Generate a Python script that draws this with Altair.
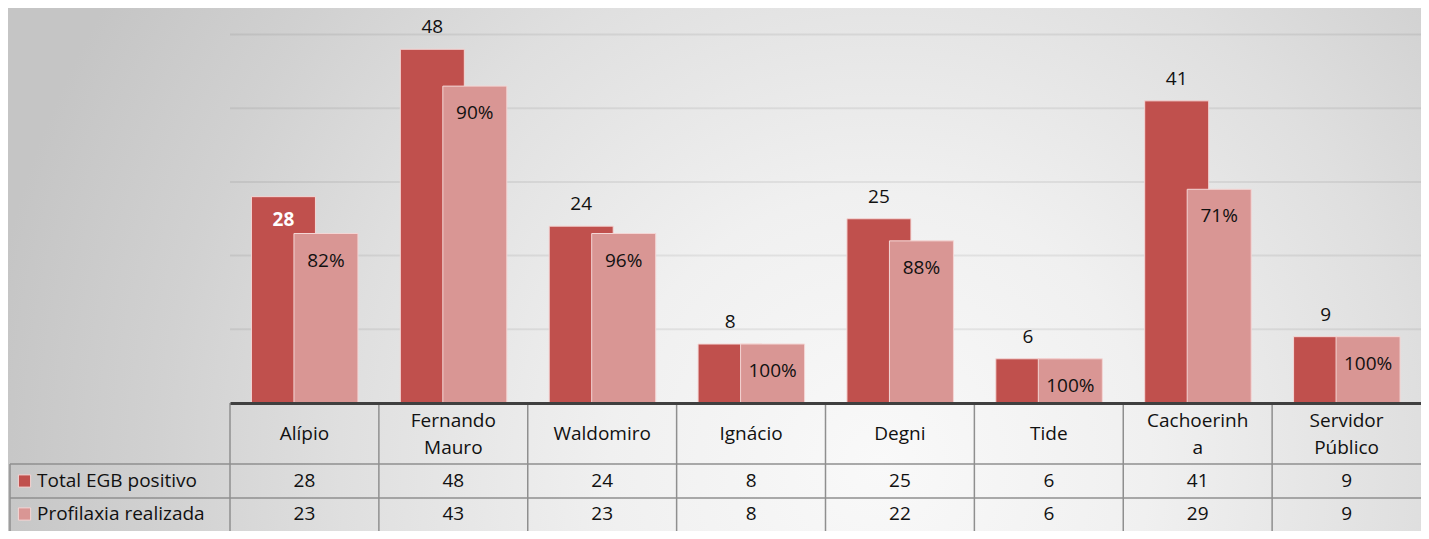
import altair as alt
import pandas as pd

# ---------------- data ----------------
categories = ["Alípio", "Fernando Mauro", "Waldomiro", "Ignácio", "Degni",
              "Tide", "Cachoerinha", "Servidor Público"]
header_labels = ["Alípio", "Fernando\nMauro", "Waldomiro", "Ignácio", "Degni",
                 "Tide", "Cachoerinh\na", "Servidor\nPúblico"]
total_egb = [28, 48, 24, 8, 25, 6, 41, 9]
profilaxia = [23, 43, 23, 8, 22, 6, 29, 9]
profilaxia_pct = ["82%", "90%", "96%", "100%", "88%", "100%", "71%", "100%"]
series_names = ["Total EGB positivo", "Profilaxia realizada"]
series_colors = ["#C0504D", "#D99694"]
grid_values = [10, 20, 30, 40, 50]

df = pd.DataFrame({
    "cat": categories,
    "header": header_labels,
    "total": total_egb,
    "prof": profilaxia,
    "pct": profilaxia_pct,
})
grid_df = pd.DataFrame({"g": grid_values})

# ---------------- layout / style ----------------
FONT = "Open Sans"
FS = 19
TXT = "#111111"
GRID = "#8f8f8f"
PLOT_W = 1191
PLOT_H = 395
LEFT = 222
TABLE_H = 128
HEADER_Y = 426
ROW_Y = [473, 506]
ROW_LINES = [456, 490]
LEG_X = -220
LH = 27

bg_fill = {
    "gradient": "radial",
    "x1": 0.617, "y1": 0.637, "r1": 0,
    "x2": 0.617, "y2": 0.637, "r2": 0.637,
    "stops": [
        {"offset": 0.0, "color": "#f9f9f9"},
        {"offset": 0.3, "color": "#f0f0f0"},
        {"offset": 0.6, "color": "#dfdfdf"},
        {"offset": 0.8, "color": "#d1d1d1"},
        {"offset": 1.0, "color": "#c5c5c5"},
    ],
}

xscale = alt.Scale(paddingInner=0, paddingOuter=0)
xaxis = alt.Axis(labels=False, ticks=False, title=None, grid=False,
                 domainColor="#3f3f3f", domainWidth=3, zindex=1)
yscale = alt.Scale(domain=[0, 53.6], nice=False, zero=True)


def X(**kw):
    return alt.X("cat:N", sort=categories, scale=xscale, axis=xaxis, **kw)


def Y(field):
    return alt.Y(field, scale=yscale, axis=None)


one = pd.DataFrame({"k": [0]})

background = alt.Chart(one).mark_rect(fill=bg_fill).encode(
    x=alt.value(-LEFT), x2=alt.value(PLOT_W),
    y=alt.value(0), y2=alt.value(PLOT_H + TABLE_H),
)

gridlines = alt.Chart(grid_df).mark_rule(color="#000000", opacity=0.065,
                                         strokeWidth=2).encode(
    y=Y("g:Q"), x=alt.value(0), x2=alt.value(PLOT_W))

base = alt.Chart(df)

bars_total = base.mark_bar(width=64, xOffset=-21, color=series_colors[0],
                           stroke="#f4d6d5", strokeWidth=1).encode(
    x=X(), y=Y("total:Q"))
bars_prof = base.mark_bar(width=64, xOffset=21.5, color=series_colors[1],
                          stroke="#f4d6d5", strokeWidth=1).encode(
    x=X(), y=Y("prof:Q"))

lab_total = base.transform_filter("datum.cat != 'Alípio'").mark_text(
    xOffset=-21, dy=-16, baseline="alphabetic", font=FONT, fontSize=FS,
    color=TXT).encode(x=X(), y=Y("total:Q"), text="total:Q")
lab_total_in = base.transform_filter("datum.cat == 'Alípio'").mark_text(
    xOffset=-21, dy=29, baseline="alphabetic", font=FONT, fontSize=FS,
    fontWeight="bold", color="white").encode(x=X(), y=Y("total:Q"), text="total:Q")
lab_prof = base.mark_text(
    xOffset=21.5, dy=33, baseline="alphabetic", font=FONT, fontSize=FS,
    color=TXT).encode(x=X(), y=Y("prof:Q"), text="pct:N")

# ---------------- table ----------------
vlines = base.mark_rule(color=GRID, strokeWidth=1.5).encode(
    x=X(bandPosition=0), y=alt.value(PLOT_H), y2=alt.value(PLOT_H + TABLE_H))
hlines = [
    alt.Chart(one).mark_rule(color=GRID, strokeWidth=1.5).encode(
        x=alt.value(LEG_X), x2=alt.value(PLOT_W), y=alt.value(yy))
    for yy in ROW_LINES
]
leg_border = alt.Chart(one).mark_rule(color=GRID, strokeWidth=1.5).encode(
    x=alt.value(LEG_X), y=alt.value(ROW_LINES[0]), y2=alt.value(PLOT_H + TABLE_H))

header_one = base.transform_filter("indexof(datum.header, '\\n') < 0").mark_text(
    baseline="middle", font=FONT, fontSize=FS, color=TXT).encode(
    x=X(), y=alt.value(HEADER_Y), text="header:N")
header_two = base.transform_filter("indexof(datum.header, '\\n') >= 0").mark_text(
    lineBreak="\n", lineHeight=LH, dy=-LH / 2, baseline="middle",
    font=FONT, fontSize=FS, color=TXT).encode(
    x=X(), y=alt.value(HEADER_Y), text="header:N")
row1_txt = base.mark_text(baseline="middle", font=FONT, fontSize=FS, color=TXT).encode(
    x=X(), y=alt.value(ROW_Y[0]), text="total:Q")
row2_txt = base.mark_text(baseline="middle", font=FONT, fontSize=FS, color=TXT).encode(
    x=X(), y=alt.value(ROW_Y[1]), text="prof:Q")

legend_layers = []
for i, name in enumerate(series_names):
    d = pd.DataFrame({"s": [name]})
    legend_layers.append(
        alt.Chart(d).mark_square(size=150, color=series_colors[i], opacity=1,
                                 stroke="#f4d6d5", strokeWidth=1).encode(
            x=alt.value(-205.5), y=alt.value(ROW_Y[i])))
    legend_layers.append(
        alt.Chart(d).mark_text(align="left", baseline="middle", font=FONT,
                               fontSize=FS, color=TXT).encode(
            x=alt.value(-193), y=alt.value(ROW_Y[i]), text="s:N"))

chart = alt.layer(
    background, gridlines, bars_total, bars_prof, lab_total, lab_total_in, lab_prof,
    vlines, *hlines, leg_border, header_one, header_two, row1_txt, row2_txt,
    *legend_layers,
).properties(
    width=PLOT_W, height=PLOT_H,
    padding={"left": LEFT, "top": 0, "right": 0, "bottom": TABLE_H},
    autosize=alt.AutoSizeParams(type="none"),
).configure_view(stroke=None)

chart.save("out.html", embed_options={"renderer": "svg", "actions": False})
